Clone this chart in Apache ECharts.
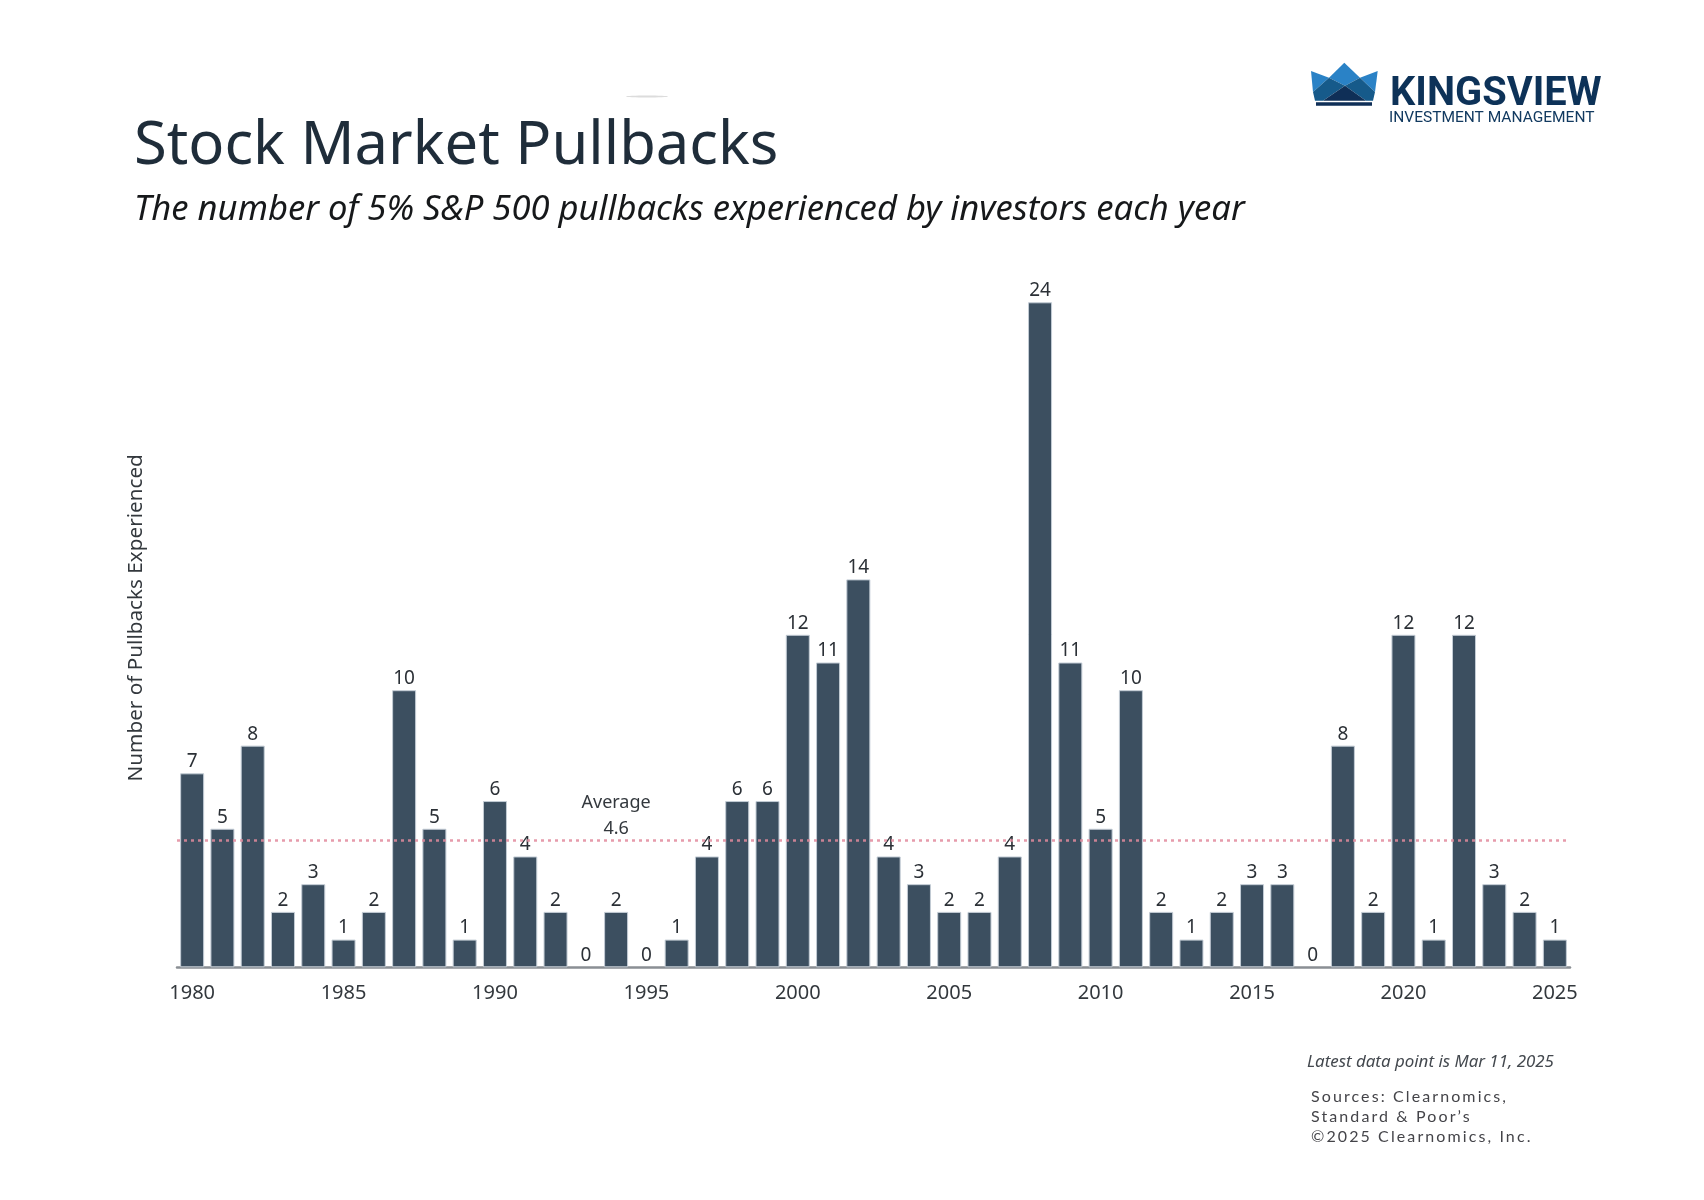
<!DOCTYPE html>
<html>
<head>
<meta charset="utf-8">
<title>Stock Market Pullbacks</title>
<script src="https://cdn.jsdelivr.net/npm/echarts@6/dist/echarts.min.js"></script>
<style>
  html, body { margin: 0; padding: 0; background: #fff; }
  #wrap { position: relative; width: 1704px; height: 1200px; }
  #chart { width: 1704px; height: 1200px; }
  /* the source note is letter-spaced, canvas text can't do that */
  #sources { position: absolute; left: 1311px; top: 1086px; font: 16px/20px Lato, sans-serif; letter-spacing: 2.1px; color: #444449; white-space: nowrap; }
</style>
</head>
<body>
<div id="wrap">
  <div id="chart"></div>
  <div id="sources"></div>
</div>
<script>
var years = ['1980','1981','1982','1983','1984','1985','1986','1987','1988','1989',
  '1990','1991','1992','1993','1994','1995','1996','1997','1998','1999',
  '2000','2001','2002','2003','2004','2005','2006','2007','2008','2009',
  '2010','2011','2012','2013','2014','2015','2016','2017','2018','2019',
  '2020','2021','2022','2023','2024','2025'];
var pullbacks = [7,5,8,2,3,1,2,10,5,1,
  6,4,2,0,2,0,1,4,6,6,
  12,11,14,4,3,2,2,4,24,11,
  5,10,2,1,2,3,3,0,8,2,
  12,1,12,3,2,1];
var average = 4.6;
var averageYear = '1994';
var sourceLines = ['Sources: Clearnomics,', 'Standard & Poor\u2019s', '\u00a92025 Clearnomics, Inc.'];

var font = '"Noto Sans", sans-serif';
var chart = echarts.init(document.getElementById('chart'));

document.getElementById('sources').innerHTML = sourceLines.join('<br>').replace(/&/g, '&amp;');

// crown logo, points
function poly(points, color) {
  return { type: 'polygon', shape: { points: points }, style: { fill: color } };
}
var logo = [
  poly([[1311,71],[1329,77.7],[1313,92]], '#2a82c6'),
  poly([[1329,77.7],[1344.3,62.7],[1360,77.7],[1345,85.7]], '#2a82c6'),
  poly([[1360,77.7],[1377.7,71],[1375,92]], '#2a82c6'),
  poly([[1329,77.7],[1345,85.7],[1323,100.7],[1315,100.7],[1313,92]], '#165a8a'),
  poly([[1345,85.7],[1360,77.7],[1375,92],[1373,100.7],[1366,100.7]], '#165a8a'),
  poly([[1345,85.7],[1366,100.7],[1323,100.7]], '#0f2f57'),
  { type: 'rect', shape: { x: 1316, y: 102.3, width: 56, height: 3.4 }, style: { fill: '#0f2f57' } },
  { type: 'text', x: 1390, y: 95.5, style: { text: 'KINGSVIEW', fill: '#0d3258', font: 'bold 39.8px Roboto, sans-serif', textVerticalAlign: 'middle' } },
  { type: 'text', x: 1389, y: 118, style: { text: 'INVESTMENT MANAGEMENT', fill: '#123a60', font: '15.5px Roboto, sans-serif', textVerticalAlign: 'middle' } }
];

var notes = [
  { type: 'text', x: 1307, y: 1062, style: { text: 'Latest data point is Mar 11, 2025', fill: '#44494f', font: 'italic 16.9px "Noto Sans", sans-serif', textVerticalAlign: 'middle' } },
  { type: 'ellipse', shape: { cx: 647, cy: 96.5, rx: 21, ry: 1 }, style: { fill: '#dcdcdc' } }
];

var barData = pullbacks.map(function (v) {
  // a zero bar would otherwise leave its border on the baseline
  return v === 0 ? { value: v, itemStyle: { borderWidth: 0 } } : v;
});

var option = {
  animation: false,
  backgroundColor: '#fff',
  title: [
    { text: 'Stock Market Pullbacks', left: 134, top: 117, padding: 0, textStyle: { color: '#1f2d3a', fontSize: 59.7, fontWeight: 'normal', fontFamily: font } },
    { text: 'The number of 5% S&P 500 pullbacks experienced by investors each year', left: 134, top: 193, padding: 0, textStyle: { color: '#16181a', fontSize: 34.6, fontWeight: 'normal', fontStyle: 'italic', fontFamily: font } }
  ],
  grid: { left: 177, width: 1393, top: 302.3, height: 665, containLabel: false },
  xAxis: {
    type: 'category',
    data: years,
    offset: 5.5,
    axisLine: { lineStyle: { color: '#8a8f94', width: 2.5 } },
    axisTick: { show: false },
    axisLabel: { interval: 4, margin: 10, color: '#33383d', fontSize: 20, fontFamily: font }
  },
  yAxis: {
    type: 'value',
    min: 0,
    max: 24,
    name: 'Number of Pullbacks Experienced',
    nameLocation: 'middle',
    nameGap: 30,
    nameTextStyle: { color: '#33383d', fontSize: 20.7, fontFamily: font, padding: [0, 0, 0, 34] },
    axisLine: { show: false },
    axisTick: { show: false },
    axisLabel: { show: false },
    splitLine: { show: false }
  },
  series: [{
    type: 'bar',
    data: barData,
    barWidth: 24,
    itemStyle: { color: '#3c4f60', borderColor: '#c3ccd5', borderWidth: 1 },
    label: { show: true, position: 'top', distance: 2, color: '#2b3036', fontSize: 19, fontFamily: font },
    markLine: {
      silent: true,
      symbol: 'none',
      label: { show: false },
      lineStyle: { color: '#e28a9c', type: [3, 4], width: 2.5, opacity: 0.85 },
      data: [{ yAxis: average }]
    },
    markPoint: {
      silent: true,
      symbolSize: 0,
      label: { show: true, position: 'top', distance: 2, offset: [0, 4], formatter: 'Average\n' + average, color: '#33383d', fontSize: 18, lineHeight: 26, fontFamily: font },
      data: [{ coord: [averageYear, average] }]
    }
  }],
  graphic: { elements: logo.concat(notes) }
};
chart.setOption(option);
</script>
</body>
</html>
